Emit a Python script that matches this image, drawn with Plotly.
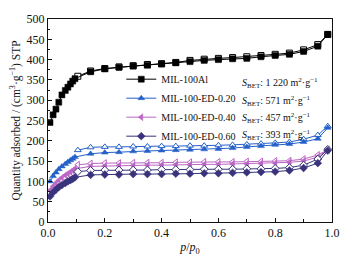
import plotly.graph_objects as go

# ---- data ----
ads_x = [0.007, 0.018, 0.028, 0.038, 0.049, 0.061, 0.070, 0.079, 0.087, 0.095,
         0.15, 0.20, 0.25, 0.30, 0.35, 0.40, 0.45, 0.50, 0.55, 0.60, 0.65, 0.70,
         0.75, 0.80, 0.85, 0.90, 0.95, 0.985]
des_x = [0.985, 0.95, 0.90, 0.85, 0.80, 0.75, 0.70, 0.65, 0.60, 0.55, 0.50, 0.45,
         0.40, 0.35, 0.30, 0.25, 0.20, 0.15, 0.105]

al_ads = [245, 264, 278, 295, 313, 324, 332, 340, 347, 353,
          370, 377, 381, 384, 386, 389, 392, 395, 398, 400, 402, 403,
          407, 410, 413, 420, 433, 462]
al_des = [462, 437, 424, 416, 413, 410, 407, 405, 403, 401, 398, 393,
          390, 388, 385, 382, 378, 372, 359]

e20_ads = [100, 113, 122, 130, 137, 143, 148, 152, 156, 160,
           168, 171, 172, 174, 175, 176, 177, 178, 179, 180, 182, 185,
           187, 190, 192, 197, 205, 232]
e20_des = [236, 214, 204, 197, 195, 193, 191, 190, 189, 188, 188, 187,
           187, 186, 186, 185, 185, 184, 177]

e40_ads = [78, 88, 96, 103, 109, 115, 119, 123, 127, 131,
           137, 138, 139, 139, 140, 140, 141, 141, 142, 142, 143, 143,
           144, 145, 147, 150, 160, 178]
e40_des = [178, 165, 155, 151, 150, 149, 149, 148, 148, 148, 147, 147,
           146, 146, 146, 145, 145, 144, 141]

e60_ads = [63, 73, 80, 86, 91, 96, 100, 103, 106, 110,
           116, 117, 117, 118, 118, 118, 119, 119, 120, 120, 121, 122,
           123, 124, 127, 133, 145, 176]
e60_des = [179, 155, 140, 134, 132, 131, 131, 130, 130, 130, 129, 129,
           129, 128, 128, 128, 128, 127, 124]

names = ["MIL-100Al", "MIL-100-ED-0.20", "MIL-100-ED-0.40", "MIL-100-ED-0.60"]
sbet = ["1 220", "571", "457", "393"]
colors = ["#000000", "#2560c8", "#bb66c4", "#38337a"]
symbols = ["square", "triangle-up", "triangle-left", "diamond"]
ads_all = [al_ads, e20_ads, e40_ads, e60_ads]
des_all = [al_des, e20_des, e40_des, e60_des]

FONT = "Liberation Serif, Times New Roman, serif"

fig = go.Figure()
for name, col, sym, ya, yd in zip(names, colors, symbols, ads_all, des_all):
    fig.add_trace(go.Scatter(
        x=des_x, y=yd, mode="lines+markers", showlegend=False,
        line=dict(color=col, width=1),
        marker=dict(symbol=sym, size=6, color="white", line=dict(color=col, width=1))))
    fig.add_trace(go.Scatter(
        x=ads_x, y=ya, mode="lines+markers", name=name,
        line=dict(color=col, width=1),
        marker=dict(symbol=sym, size=6, color=col, line=dict(color=col, width=0.5))))

# S_BET annotations, aligned with legend rows
row0 = 0.683
rowstep = 0.0855
for i, s in enumerate(sbet):
    fig.add_annotation(
        x=0.675, y=row0 - i * rowstep, xref="paper", yref="paper",
        xanchor="left", yanchor="middle", showarrow=False,
        text="<i>S</i><sub>BET</sub>: " + s + " m<sup>2</sup>·g<sup>−1</sup>",
        font=dict(family=FONT, size=10, color="#111"))

fig.update_layout(
    width=352, height=264,
    margin=dict(l=48, r=14, t=12, b=37),
    paper_bgcolor="white", plot_bgcolor="white",
    font=dict(family=FONT, size=12, color="#111"),
    legend=dict(x=0.258, y=0.775, xanchor="left", yanchor="top",
                bgcolor="rgba(0,0,0,0)", font=dict(family=FONT, size=10),
                tracegroupgap=0, itemwidth=30),
    xaxis=dict(range=[0, 1.0], dtick=0.2, tickformat=".1f",
               ticks="inside", ticklen=4, tickcolor="#111",
               minor=dict(dtick=0.1, ticks="inside", ticklen=3, tickcolor="#111"),
               showline=True, linecolor="#111", linewidth=1, mirror=True,
               showgrid=False, zeroline=False,
               title=dict(text="<i>p</i>/<i>p</i><sub>0</sub>", standoff=3,
                          font=dict(family=FONT, size=12))),
    yaxis=dict(range=[0, 500], dtick=50,
               ticks="inside", ticklen=4, tickcolor="#111",
               minor=dict(dtick=25, ticks="inside", ticklen=2, tickcolor="#111"),
               showline=True, linecolor="#111", linewidth=1, mirror=True,
               showgrid=False, zeroline=False,
               title=dict(text="Quantity adsorbed / (cm<sup>3</sup>·g<sup>−1</sup>) STP",
                          standoff=3, font=dict(family=FONT, size=11.5))),
)

fig.write_html("out.html", config={"displayModeBar": False},
               post_script="document.body.style.margin='0';")
